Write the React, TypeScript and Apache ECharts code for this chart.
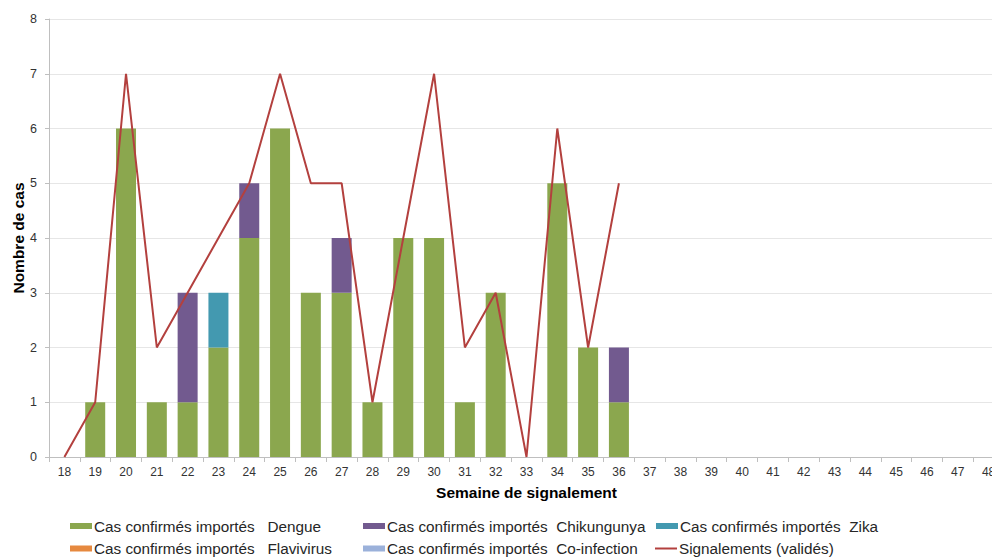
import React, { useEffect, useRef } from "react";
import * as echarts from "echarts";

const weeks = ["18","19","20","21","22","23","24","25","26","27","28","29","30","31","32","33","34","35","36","37","38","39","40","41","42","43","44","45","46","47","48"];
const dengue = [0,1,6,1,1,2,4,6,3,3,1,4,4,1,3,0,5,2,1,null,null,null,null,null,null,null,null,null,null,null,null];
const chikungunya = [null,null,null,null,2,null,1,null,null,1,null,null,null,null,null,null,null,null,1,null,null,null,null,null,null,null,null,null,null,null,null];
const zika = [null,null,null,null,null,1,null,null,null,null,null,null,null,null,null,null,null,null,null,null,null,null,null,null,null,null,null,null,null,null,null];
const flavivirus: (number | null)[] = [];
const coinfection: (number | null)[] = [];
const signalements = [0,1,7,2,3,4,5,7,5,5,1,4,7,2,3,0,6,2,5,null,null,null,null,null,null,null,null,null,null,null,null];
const yTicks = [0,1,2,3,4,5,6,7,8];

const nDengue = "Cas confirmés importés   Dengue";
const nChik = "Cas confirmés importés  Chikungunya";
const nZika = "Cas confirmés importés  Zika";
const nFlavi = "Cas confirmés importés   Flavivirus";
const nCo = "Cas confirmés importés  Co-infection";
const nSig = "Signalements (validés)";

export default function App() {
  const ref = useRef<HTMLDivElement>(null);
  useEffect(() => {
    if (!ref.current) return;
    const chart = echarts.init(ref.current, null, { renderer: "svg" });
    const font = "'Liberation Sans', Arial, sans-serif";
    const lg = (name: string, left: number, top: number, icon: string) => ({
      orient: "horizontal" as const,
      left,
      top,
      padding: 0,
      itemWidth: 22,
      itemHeight: 6,
      itemGap: 0,
      textStyle: { fontFamily: font, fontSize: 15.3, lineHeight: 16, color: "#262626", padding: [0, 0, 0, -3] },
      selectedMode: false,
      data: [{ name, icon }],
    });
    chart.setOption({
      animation: false,
      textStyle: { fontFamily: font },
      grid: { left: 49, top: 19, bottom: 101, width: 955, containLabel: false, outerBoundsMode: "none" },
      legend: [
        lg(nDengue, 70, 518, "rect"),
        lg(nFlavi, 70, 540.5, "rect"),
        lg(nChik, 363, 518, "rect"),
        lg(nCo, 363, 540.5, "rect"),
        lg(nZika, 656, 518, "rect"),
        lg(nSig, 655, 540.5, "path://M0,0H22V2H0Z"),
      ],
      xAxis: {
        type: "category",
        data: weeks,
        boundaryGap: true,
        name: "Semaine de signalement",
        nameLocation: "middle",
        nameGap: 27.5,
        nameMoveOverlap: false,
        nameTextStyle: { fontFamily: font, fontSize: 15.5, fontWeight: "bold", color: "#000" },
        axisLine: { lineStyle: { color: "#BFBFBF", width: 1 } },
        axisTick: { show: true, lineStyle: { color: "#BFBFBF" }, length: 5 },
        axisLabel: { fontFamily: font, fontSize: 12, color: "#333333", margin: 9, interval: 0 },
      },
      yAxis: {
        type: "value",
        min: 0,
        max: 8,
        interval: 1,
        name: "Nombre de cas",
        nameLocation: "middle",
        nameGap: 23,
        nameMoveOverlap: false,
        nameTextStyle: { fontFamily: font, fontSize: 15.5, fontWeight: "bold", color: "#000" },
        axisLine: { show: true, lineStyle: { color: "#BFBFBF", width: 1 } },
        axisTick: { show: true, lineStyle: { color: "#BFBFBF" }, length: 4 },
        axisLabel: {
          fontFamily: font, fontSize: 12.5, color: "#333333", margin: 12,
          formatter: (v: number) => (yTicks.includes(v) ? String(v) : ""),
        },
        splitLine: { show: true, lineStyle: { color: "#E6E6E6", width: 1 } },
      },
      series: [
        { name: nDengue, type: "bar", stack: "cas", data: dengue, barWidth: 20, itemStyle: { color: "#8BA74E" } },
        { name: nChik, type: "bar", stack: "cas", data: chikungunya, barWidth: 20, itemStyle: { color: "#725A8F" } },
        { name: nZika, type: "bar", stack: "cas", data: zika, barWidth: 20, itemStyle: { color: "#4399B0" } },
        { name: nFlavi, type: "bar", stack: "cas", data: flavivirus, barWidth: 20, itemStyle: { color: "#E6893F" } },
        { name: nCo, type: "bar", stack: "cas", data: coinfection, barWidth: 20, itemStyle: { color: "#9BB1DA" } },
        {
          name: nSig, type: "line", data: signalements, showSymbol: false, symbol: "none",
          lineStyle: { color: "#B3403E", width: 2 }, itemStyle: { color: "#B3403E" }, z: 5,
        },
      ],
    });
    return () => chart.dispose();
  }, []);
  return <div ref={ref} style={{ width: 992, height: 558, position: "absolute", left: 0, top: 0 }} />;
}
